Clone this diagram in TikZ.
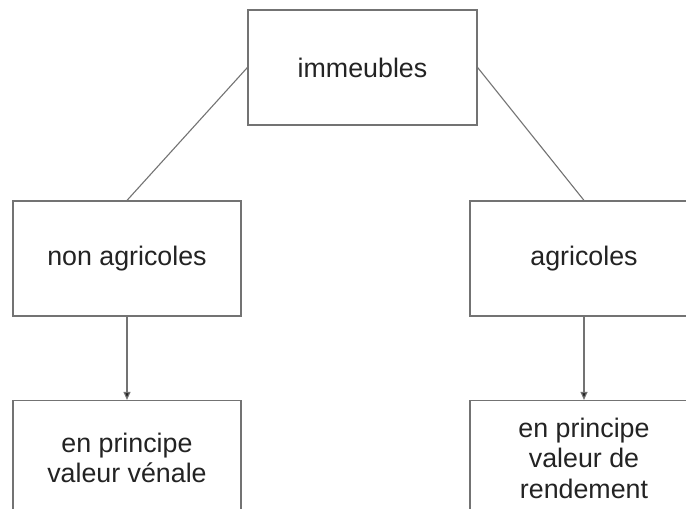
\documentclass[tikz,border=0pt]{standalone}
\usepackage{fontspec}
\setmainfont{Liberation Sans}
\usetikzlibrary{arrows.meta}
\definecolor{linegray}{RGB}{115,115,115}
\definecolor{textgray}{RGB}{35,35,35}
\begin{document}
\begin{tikzpicture}[x=1pt,y=-1pt,
  box/.style={draw=linegray, line width=1.2pt, minimum width=228pt, minimum height=115pt,
    inner sep=0pt, align=center, text=textgray, font=\fontsize{26.8}{30.5}\selectfont},
  conn/.style={draw=linegray, line width=1.1pt},
  arr/.style={conn, -{Triangle[length=8pt,width=7pt,fill=textgray]}}]
\useasboundingbox (0,0) rectangle (686,509);
\clip (0,0) rectangle (686,509);
\fill[white] (0,0) rectangle (686,509);
\node[box, minimum width=229pt] (imm) at (362.5,67.5) {immeubles};
\node[box] (nona) at (127,258.5) {non agricoles};
\node[box] (agr) at (584,258.5) {agricoles};
\node[box] (ven) at (127,458) {en principe\\valeur vénale};
\node[box] (rend) at (584,458) {en principe\\valeur de\\rendement};
\draw[conn] (imm.west) -- (nona.north);
\draw[conn] (imm.east) -- (agr.north);
\draw[arr] (nona.south) -- (ven.north);
\draw[arr] (agr.south) -- (rend.north);
\end{tikzpicture}
\end{document}
